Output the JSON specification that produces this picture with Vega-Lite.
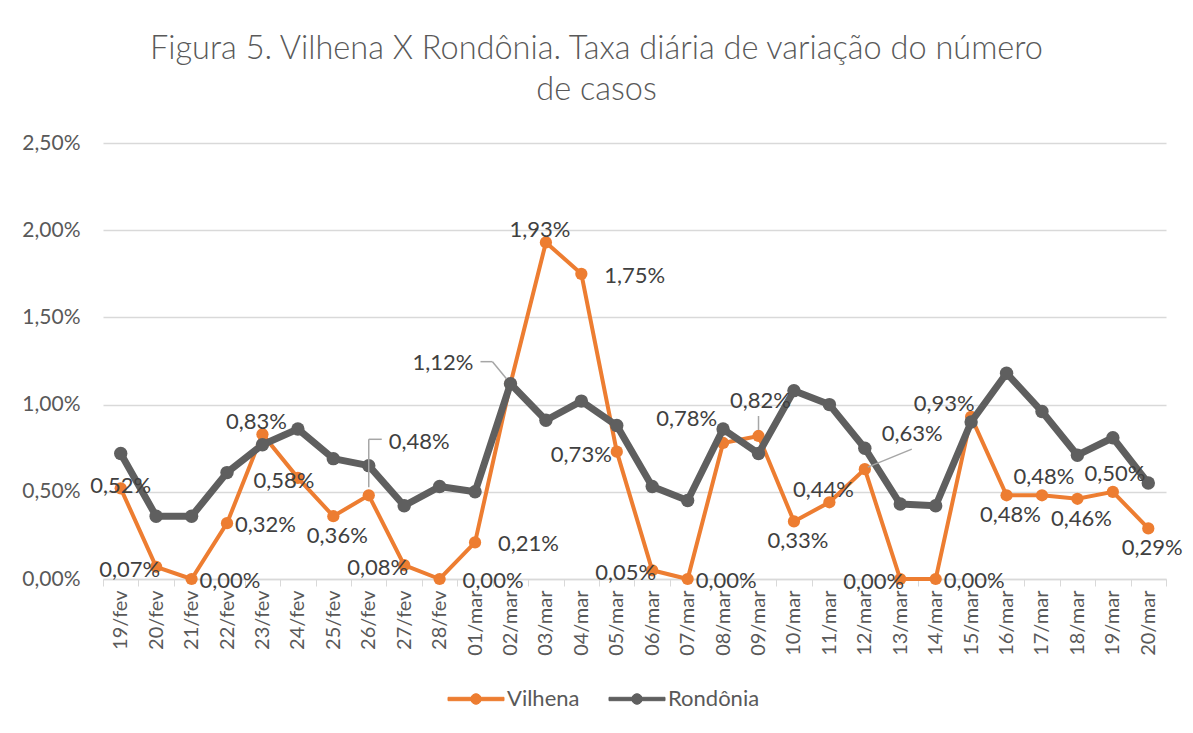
{
  "$schema": "https://vega.github.io/schema/vega-lite/v6.json",
  "autosize": {"type": "none"},
  "padding": {"left": 103, "top": 143, "right": 27, "bottom": 154},
  "width": 1063,
  "height": 436,
  "background": "#ffffff",
  "config": {
    "locale": {"number": {"decimal": ",", "thousands": ".", "grouping": [3], "currency": ["R$", ""]}},
    "view": {"stroke": null},
    "font": "Lato"
  },
  "title": {
    "text": ["Figura 5. Vilhena X Rondônia. Taxa diária de variação do número", "de casos"],
    "font": "Lato",
    "fontSize": 32.5,
    "fontWeight": 300,
    "color": "#595959",
    "lineHeight": 41,
    "anchor": "middle",
    "dx": -38,
    "offset": 26
  },
  "datasets": {
    "taxas": [
      {"dia": "19/fev", "serie": "Vilhena", "taxa": 0.0052},
      {"dia": "20/fev", "serie": "Vilhena", "taxa": 0.0007},
      {"dia": "21/fev", "serie": "Vilhena", "taxa": 0.0},
      {"dia": "22/fev", "serie": "Vilhena", "taxa": 0.0032},
      {"dia": "23/fev", "serie": "Vilhena", "taxa": 0.0083},
      {"dia": "24/fev", "serie": "Vilhena", "taxa": 0.0058},
      {"dia": "25/fev", "serie": "Vilhena", "taxa": 0.0036},
      {"dia": "26/fev", "serie": "Vilhena", "taxa": 0.0048},
      {"dia": "27/fev", "serie": "Vilhena", "taxa": 0.0008},
      {"dia": "28/fev", "serie": "Vilhena", "taxa": 0.0},
      {"dia": "01/mar", "serie": "Vilhena", "taxa": 0.0021},
      {"dia": "02/mar", "serie": "Vilhena", "taxa": 0.0112},
      {"dia": "03/mar", "serie": "Vilhena", "taxa": 0.0193},
      {"dia": "04/mar", "serie": "Vilhena", "taxa": 0.0175},
      {"dia": "05/mar", "serie": "Vilhena", "taxa": 0.0073},
      {"dia": "06/mar", "serie": "Vilhena", "taxa": 0.0005},
      {"dia": "07/mar", "serie": "Vilhena", "taxa": 0.0},
      {"dia": "08/mar", "serie": "Vilhena", "taxa": 0.0078},
      {"dia": "09/mar", "serie": "Vilhena", "taxa": 0.0082},
      {"dia": "10/mar", "serie": "Vilhena", "taxa": 0.0033},
      {"dia": "11/mar", "serie": "Vilhena", "taxa": 0.0044},
      {"dia": "12/mar", "serie": "Vilhena", "taxa": 0.0063},
      {"dia": "13/mar", "serie": "Vilhena", "taxa": 0.0},
      {"dia": "14/mar", "serie": "Vilhena", "taxa": 0.0},
      {"dia": "15/mar", "serie": "Vilhena", "taxa": 0.0093},
      {"dia": "16/mar", "serie": "Vilhena", "taxa": 0.0048},
      {"dia": "17/mar", "serie": "Vilhena", "taxa": 0.0048},
      {"dia": "18/mar", "serie": "Vilhena", "taxa": 0.0046},
      {"dia": "19/mar", "serie": "Vilhena", "taxa": 0.0050},
      {"dia": "20/mar", "serie": "Vilhena", "taxa": 0.0029},
      {"dia": "19/fev", "serie": "Rondônia", "taxa": 0.0072},
      {"dia": "20/fev", "serie": "Rondônia", "taxa": 0.0036},
      {"dia": "21/fev", "serie": "Rondônia", "taxa": 0.0036},
      {"dia": "22/fev", "serie": "Rondônia", "taxa": 0.0061},
      {"dia": "23/fev", "serie": "Rondônia", "taxa": 0.0077},
      {"dia": "24/fev", "serie": "Rondônia", "taxa": 0.0086},
      {"dia": "25/fev", "serie": "Rondônia", "taxa": 0.0069},
      {"dia": "26/fev", "serie": "Rondônia", "taxa": 0.0065},
      {"dia": "27/fev", "serie": "Rondônia", "taxa": 0.0042},
      {"dia": "28/fev", "serie": "Rondônia", "taxa": 0.0053},
      {"dia": "01/mar", "serie": "Rondônia", "taxa": 0.0050},
      {"dia": "02/mar", "serie": "Rondônia", "taxa": 0.0112},
      {"dia": "03/mar", "serie": "Rondônia", "taxa": 0.0091},
      {"dia": "04/mar", "serie": "Rondônia", "taxa": 0.0102},
      {"dia": "05/mar", "serie": "Rondônia", "taxa": 0.0088},
      {"dia": "06/mar", "serie": "Rondônia", "taxa": 0.0053},
      {"dia": "07/mar", "serie": "Rondônia", "taxa": 0.0045},
      {"dia": "08/mar", "serie": "Rondônia", "taxa": 0.0086},
      {"dia": "09/mar", "serie": "Rondônia", "taxa": 0.0072},
      {"dia": "10/mar", "serie": "Rondônia", "taxa": 0.0108},
      {"dia": "11/mar", "serie": "Rondônia", "taxa": 0.0100},
      {"dia": "12/mar", "serie": "Rondônia", "taxa": 0.0075},
      {"dia": "13/mar", "serie": "Rondônia", "taxa": 0.0043},
      {"dia": "14/mar", "serie": "Rondônia", "taxa": 0.0042},
      {"dia": "15/mar", "serie": "Rondônia", "taxa": 0.0090},
      {"dia": "16/mar", "serie": "Rondônia", "taxa": 0.0118},
      {"dia": "17/mar", "serie": "Rondônia", "taxa": 0.0096},
      {"dia": "18/mar", "serie": "Rondônia", "taxa": 0.0071},
      {"dia": "19/mar", "serie": "Rondônia", "taxa": 0.0081},
      {"dia": "20/mar", "serie": "Rondônia", "taxa": 0.0055}
    ]
  },
  "data": {"name": "taxas"},
  "encoding": {
    "x": {
      "field": "dia",
      "type": "nominal",
      "scale": {
        "type": "band",
        "paddingInner": 0,
        "paddingOuter": 0,
        "domain": ["19/fev", "20/fev", "21/fev", "22/fev", "23/fev", "24/fev", "25/fev", "26/fev", "27/fev", "28/fev", "01/mar", "02/mar", "03/mar", "04/mar", "05/mar", "06/mar", "07/mar", "08/mar", "09/mar", "10/mar", "11/mar", "12/mar", "13/mar", "14/mar", "15/mar", "16/mar", "17/mar", "18/mar", "19/mar", "20/mar"]
      },
      "axis": {
        "title": null,
        "labelAngle": -90,
        "labelAlign": "right",
        "labelBaseline": "middle",
        "labelFont": "Lato",
        "labelFontSize": 20,
        "labelColor": "#595959",
        "labelPadding": 4,
        "tickBand": "extent",
        "tickSize": 7,
        "tickColor": "#d9d9d9",
        "domainColor": "#d9d9d9",
        "domainWidth": 1.5,
        "grid": false
      }
    },
    "y": {
      "field": "taxa",
      "type": "quantitative",
      "scale": {"domain": [0, 0.025], "nice": false},
      "axis": {
        "title": null,
        "values": [0, 0.005, 0.01, 0.015, 0.02, 0.025],
        "format": ".2%",
        "labelFont": "Lato",
        "labelFontSize": 21,
        "labelColor": "#595959",
        "labelPadding": 23,
        "ticks": false,
        "domain": false,
        "grid": true,
        "gridColor": "#d9d9d9",
        "gridWidth": 1.3
      }
    }
  },
  "layer": [
    {
      "transform": [{"filter": {"field": "serie", "equal": "Vilhena"}}],
      "mark": {"type": "line", "strokeWidth": 4},
      "encoding": {
        "color": {
          "field": "serie",
          "type": "nominal",
          "scale": {"domain": ["Vilhena", "Rondônia"], "range": ["#ED7D31", "#5f5f5f"]},
          "legend": {
            "title": null,
            "orient": "none",
            "direction": "horizontal",
            "legendX": 362,
            "legendY": 545,
            "symbolType": "M -5.6 -0.34 L 5.6 -0.34 L 5.6 0.34 L -5.6 0.34 Z M 1.05 0 A 1.05 1.05 0 1 1 -1.05 0 A 1.05 1.05 0 1 1 1.05 0 Z",
            "symbolSize": 100,
            "symbolStrokeWidth": 1,
            "labelOffset": 20,
            "labelFont": "Lato",
            "labelFontSize": 22,
            "labelColor": "#595959",
            "columnPadding": 27,
            "padding": 0
          }
        }
      }
    },
    {
      "transform": [{"filter": {"field": "serie", "equal": "Vilhena"}}],
      "mark": {"type": "circle", "size": 150, "opacity": 1},
      "encoding": {"color": {"field": "serie", "type": "nominal"}}
    },
    {
      "transform": [{"filter": {"field": "serie", "equal": "Rondônia"}}],
      "mark": {"type": "line", "strokeWidth": 7, "strokeJoin": "round"},
      "encoding": {"color": {"field": "serie", "type": "nominal"}}
    },
    {
      "transform": [{"filter": {"field": "serie", "equal": "Rondônia"}}],
      "mark": {"type": "circle", "size": 180, "opacity": 1},
      "encoding": {"color": {"field": "serie", "type": "nominal"}}
    },
    {
      "transform": [{"filter": {"and": [{"field": "serie", "equal": "Vilhena"}, {"field": "dia", "equal": "26/fev"}]}}],
      "mark": {"type": "rule", "color": "#a6a6a6", "strokeWidth": 1.5, "yOffset": -8, "y2Offset": -56},
      "encoding": {"x2": {"field": "dia"}, "y2": {"field": "taxa"}}
    },
    {
      "transform": [{"filter": {"and": [{"field": "serie", "equal": "Vilhena"}, {"field": "dia", "equal": "26/fev"}]}}],
      "mark": {"type": "rule", "color": "#a6a6a6", "strokeWidth": 1.5, "yOffset": -56, "y2Offset": -56, "x2Offset": 13},
      "encoding": {"x2": {"field": "dia"}, "y2": {"field": "taxa"}}
    },
    {
      "transform": [{"filter": {"and": [{"field": "serie", "equal": "Vilhena"}, {"field": "dia", "equal": "02/mar"}]}}],
      "mark": {"type": "rule", "color": "#a6a6a6", "strokeWidth": 1.5, "xOffset": -4, "yOffset": -5, "x2Offset": -18, "y2Offset": -22},
      "encoding": {"x2": {"field": "dia"}, "y2": {"field": "taxa"}}
    },
    {
      "transform": [{"filter": {"and": [{"field": "serie", "equal": "Vilhena"}, {"field": "dia", "equal": "02/mar"}]}}],
      "mark": {"type": "rule", "color": "#a6a6a6", "strokeWidth": 1.5, "xOffset": -18, "yOffset": -22, "x2Offset": -30, "y2Offset": -22},
      "encoding": {"x2": {"field": "dia"}, "y2": {"field": "taxa"}}
    },
    {
      "transform": [{"filter": {"and": [{"field": "serie", "equal": "Vilhena"}, {"field": "dia", "equal": "09/mar"}]}}],
      "mark": {"type": "rule", "color": "#a6a6a6", "strokeWidth": 1.5, "yOffset": -6, "y2Offset": -20},
      "encoding": {"x2": {"field": "dia"}, "y2": {"field": "taxa"}}
    },
    {
      "transform": [{"filter": {"and": [{"field": "serie", "equal": "Vilhena"}, {"field": "dia", "equal": "12/mar"}]}}],
      "mark": {"type": "rule", "color": "#a6a6a6", "strokeWidth": 1.5, "xOffset": 3, "yOffset": -2, "x2Offset": 47, "y2Offset": -20},
      "encoding": {"x2": {"field": "dia"}, "y2": {"field": "taxa"}}
    },
    {
      "transform": [{"filter": {"and": [{"field": "serie", "equal": "Vilhena"}, {"field": "dia", "oneOf": ["19/fev"]}]}}],
      "mark": {"type": "text", "align": "center", "baseline": "middle", "dx": 0, "dy": -2, "fontSize": 22, "font": "Lato", "color": "#404040"},
      "encoding": {"text": {"field": "taxa", "format": ".2%"}}
    },
    {
      "transform": [{"filter": {"and": [{"field": "serie", "equal": "Vilhena"}, {"field": "dia", "oneOf": ["20/fev", "27/fev", "06/mar", "13/mar"]}]}}],
      "mark": {"type": "text", "align": "right", "baseline": "middle", "dx": 4, "dy": 3, "fontSize": 22, "font": "Lato", "color": "#404040"},
      "encoding": {"text": {"field": "taxa", "format": ".2%"}}
    },
    {
      "transform": [{"filter": {"and": [{"field": "serie", "equal": "Vilhena"}, {"field": "dia", "oneOf": ["05/mar"]}]}}],
      "mark": {"type": "text", "align": "right", "baseline": "middle", "dx": -5, "dy": 3, "fontSize": 22, "font": "Lato", "color": "#404040"},
      "encoding": {"text": {"field": "taxa", "format": ".2%"}}
    },
    {
      "transform": [{"filter": {"and": [{"field": "serie", "equal": "Vilhena"}, {"field": "dia", "oneOf": ["21/fev", "22/fev", "07/mar", "14/mar"]}]}}],
      "mark": {"type": "text", "align": "left", "baseline": "middle", "dx": 8, "dy": 2, "fontSize": 22, "font": "Lato", "color": "#404040"},
      "encoding": {"text": {"field": "taxa", "format": ".2%"}}
    },
    {
      "transform": [{"filter": {"and": [{"field": "serie", "equal": "Vilhena"}, {"field": "dia", "oneOf": ["28/fev", "01/mar", "04/mar"]}]}}],
      "mark": {"type": "text", "align": "left", "baseline": "middle", "dx": 23, "dy": 2, "fontSize": 22, "font": "Lato", "color": "#404040"},
      "encoding": {"text": {"field": "taxa", "format": ".2%"}}
    },
    {
      "transform": [{"filter": {"and": [{"field": "serie", "equal": "Vilhena"}, {"field": "dia", "oneOf": ["23/fev", "03/mar", "11/mar"]}]}}],
      "mark": {"type": "text", "align": "center", "baseline": "middle", "dx": -6, "dy": -12, "fontSize": 22, "font": "Lato", "color": "#404040"},
      "encoding": {"text": {"field": "taxa", "format": ".2%"}}
    },
    {
      "transform": [{"filter": {"and": [{"field": "serie", "equal": "Vilhena"}, {"field": "dia", "oneOf": ["17/mar", "19/mar"]}]}}],
      "mark": {"type": "text", "align": "center", "baseline": "middle", "dx": 2, "dy": -18, "fontSize": 22, "font": "Lato", "color": "#404040"},
      "encoding": {"text": {"field": "taxa", "format": ".2%"}}
    },
    {
      "transform": [{"filter": {"and": [{"field": "serie", "equal": "Vilhena"}, {"field": "dia", "oneOf": ["15/mar"]}]}}],
      "mark": {"type": "text", "align": "center", "baseline": "middle", "dx": -27, "dy": -13, "fontSize": 22, "font": "Lato", "color": "#404040"},
      "encoding": {"text": {"field": "taxa", "format": ".2%"}}
    },
    {
      "transform": [{"filter": {"and": [{"field": "serie", "equal": "Vilhena"}, {"field": "dia", "oneOf": ["08/mar"]}]}}],
      "mark": {"type": "text", "align": "right", "baseline": "middle", "dx": -6, "dy": -24, "fontSize": 22, "font": "Lato", "color": "#404040"},
      "encoding": {"text": {"field": "taxa", "format": ".2%"}}
    },
    {
      "transform": [{"filter": {"and": [{"field": "serie", "equal": "Vilhena"}, {"field": "dia", "oneOf": ["25/fev", "10/mar", "16/mar", "18/mar", "20/mar"]}]}}],
      "mark": {"type": "text", "align": "center", "baseline": "middle", "dx": 4, "dy": 20, "fontSize": 22, "font": "Lato", "color": "#404040"},
      "encoding": {"text": {"field": "taxa", "format": ".2%"}}
    },
    {
      "transform": [{"filter": {"and": [{"field": "serie", "equal": "Vilhena"}, {"field": "dia", "oneOf": ["24/fev"]}]}}],
      "mark": {"type": "text", "align": "center", "baseline": "middle", "dx": -14, "dy": 3, "fontSize": 22, "font": "Lato", "color": "#404040"},
      "encoding": {"text": {"field": "taxa", "format": ".2%"}}
    },
    {
      "transform": [{"filter": {"and": [{"field": "serie", "equal": "Vilhena"}, {"field": "dia", "oneOf": ["26/fev"]}]}}],
      "mark": {"type": "text", "align": "left", "baseline": "middle", "dx": 20, "dy": -53, "fontSize": 22, "font": "Lato", "color": "#404040"},
      "encoding": {"text": {"field": "taxa", "format": ".2%"}}
    },
    {
      "transform": [{"filter": {"and": [{"field": "serie", "equal": "Vilhena"}, {"field": "dia", "oneOf": ["02/mar"]}]}}],
      "mark": {"type": "text", "align": "right", "baseline": "middle", "dx": -37, "dy": -21, "fontSize": 22, "font": "Lato", "color": "#404040"},
      "encoding": {"text": {"field": "taxa", "format": ".2%"}}
    },
    {
      "transform": [{"filter": {"and": [{"field": "serie", "equal": "Vilhena"}, {"field": "dia", "oneOf": ["09/mar"]}]}}],
      "mark": {"type": "text", "align": "center", "baseline": "middle", "dx": 2, "dy": -35, "fontSize": 22, "font": "Lato", "color": "#404040"},
      "encoding": {"text": {"field": "taxa", "format": ".2%"}}
    },
    {
      "transform": [{"filter": {"and": [{"field": "serie", "equal": "Vilhena"}, {"field": "dia", "oneOf": ["12/mar"]}]}}],
      "mark": {"type": "text", "align": "left", "baseline": "middle", "dx": 17, "dy": -35, "fontSize": 22, "font": "Lato", "color": "#404040"},
      "encoding": {"text": {"field": "taxa", "format": ".2%"}}
    }
  ]
}
